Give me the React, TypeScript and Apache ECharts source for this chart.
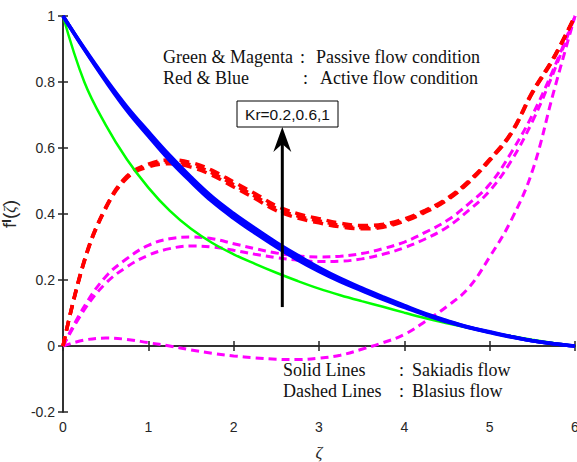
import React, { useEffect, useRef } from "react";
import * as echarts from "echarts";

const zeta = [0, 0.25, 0.5, 0.75, 1, 1.25, 1.5, 1.75, 2, 2.25, 2.5, 2.75, 3, 3.25, 3.5, 3.75, 4, 4.25, 4.5, 4.75, 5, 5.25, 5.5, 5.75, 6];

// Sakiadis (solid)
const greenPassive = [1, 0.8, 0.67, 0.565, 0.48, 0.41, 0.355, 0.312, 0.278, 0.249, 0.222, 0.197, 0.174, 0.154, 0.136, 0.119, 0.101, 0.084, 0.069, 0.055, 0.042, 0.03, 0.019, 0.009, 0];
const blueKr02 = [1, 0.902, 0.81, 0.725, 0.65, 0.578, 0.512, 0.452, 0.402, 0.357, 0.314, 0.275, 0.238, 0.205, 0.176, 0.149, 0.123, 0.098, 0.077, 0.058, 0.043, 0.029, 0.016, 0.007, 0];
const blueKr06 = [1, 0.9, 0.806, 0.719, 0.643, 0.57, 0.505, 0.445, 0.395, 0.35, 0.307, 0.268, 0.232, 0.2, 0.172, 0.145, 0.12, 0.096, 0.075, 0.057, 0.042, 0.028, 0.016, 0.007, 0];
const blueKr1 = [1, 0.898, 0.802, 0.713, 0.636, 0.562, 0.497, 0.437, 0.387, 0.342, 0.3, 0.261, 0.226, 0.195, 0.168, 0.141, 0.117, 0.094, 0.073, 0.056, 0.041, 0.027, 0.016, 0.007, 0];

// Blasius (dashed)
const redKr02 = [0, 0.26, 0.42, 0.515, 0.551, 0.564, 0.556, 0.532, 0.497, 0.462, 0.425, 0.401, 0.386, 0.372, 0.365, 0.369, 0.385, 0.412, 0.447, 0.499, 0.566, 0.646, 0.77, 0.875, 1];
const redKr06 = [0, 0.258, 0.418, 0.512, 0.547, 0.558, 0.549, 0.524, 0.489, 0.454, 0.417, 0.394, 0.379, 0.366, 0.359, 0.364, 0.381, 0.409, 0.444, 0.496, 0.564, 0.644, 0.768, 0.873, 1];
const redKr1 = [0, 0.256, 0.416, 0.509, 0.543, 0.552, 0.542, 0.517, 0.482, 0.447, 0.41, 0.388, 0.373, 0.361, 0.355, 0.36, 0.378, 0.406, 0.442, 0.494, 0.562, 0.642, 0.766, 0.871, 1];
const magentaUpper1 = [0, 0.12, 0.21, 0.265, 0.305, 0.325, 0.33, 0.325, 0.31, 0.295, 0.282, 0.273, 0.27, 0.272, 0.28, 0.295, 0.315, 0.345, 0.38, 0.43, 0.49, 0.585, 0.7, 0.84, 1];
const magentaUpper2 = [0, 0.11, 0.19, 0.24, 0.275, 0.295, 0.303, 0.3, 0.29, 0.278, 0.268, 0.26, 0.256, 0.257, 0.264, 0.278, 0.298, 0.325, 0.36, 0.41, 0.47, 0.56, 0.68, 0.83, 1];
const magentaLower = [0, 0.018, 0.024, 0.02, 0.01, 0, -0.012, -0.022, -0.03, -0.036, -0.04, -0.041, -0.037, -0.028, -0.01, 0.01, 0.035, 0.075, 0.12, 0.175, 0.27, 0.38, 0.53, 0.77, 1];

const xTicks = [0, 1, 2, 3, 4, 5, 6];
const yTicks = [-0.2, 0, 0.2, 0.4, 0.6, 0.8, 1];

const arrowFrom = [2.57, 0.118];
const arrowTo = [2.57, 0.664];

const pairs = (ys: number[]) => zeta.map((z, i) => [z, ys[i]]);

const SERIF = "'Liberation Serif', 'Times New Roman', serif";
const SANS = "'Liberation Sans', Arial, sans-serif";
const AX = "#262626";

export default function App() {
  const ref = useRef<HTMLDivElement>(null);
  useEffect(() => {
    if (!ref.current) return;
    const chart = echarts.init(ref.current, null, { renderer: "svg" });
    const dashed = (name: string, ys: number[], color: string, w: number, dash: number[]) => ({
      name, type: "line", data: pairs(ys), smooth: 0.4, symbol: "none",
      lineStyle: { color, width: w, type: dash }, z: 2,
    });
    const solid = (name: string, ys: number[], color: string, w: number) => ({
      name, type: "line", data: pairs(ys), smooth: 0.4, symbol: "none",
      lineStyle: { color, width: w, type: "solid" }, z: 3,
    });
    const axisCommon = {
      axisLine: { show: true, lineStyle: { color: AX, width: 1.5 } },
      axisTick: { show: true, inside: true, length: 5, lineStyle: { color: AX, width: 1.5 } },
      splitLine: { show: false },
    };
    chart.setOption({
      animation: false,
      grid: { left: 63, right: 2, top: 16, bottom: 50, containLabel: false, outerBoundsMode: "none" },
      xAxis: [
        {
          type: "value", min: xTicks[0], max: xTicks[xTicks.length - 1], interval: 1, position: "bottom",
          ...axisCommon,
          axisLabel: { color: AX, fontSize: 14, fontFamily: SANS, margin: 8 },
          name: "ζ", nameLocation: "middle", nameGap: 32,
          nameTextStyle: { color: AX, fontSize: 17, fontFamily: SERIF, fontStyle: "italic" },
        },
        {
          type: "value", min: xTicks[0], max: xTicks[xTicks.length - 1], interval: 1, position: "top",
          ...axisCommon, axisLabel: { show: false },
        },
      ],
      yAxis: [
        {
          type: "value", min: yTicks[0], max: yTicks[yTicks.length - 1], interval: 0.2, position: "left",
          ...axisCommon,
          axisLabel: { color: AX, fontSize: 14, fontFamily: SANS, margin: 8, formatter: (v: number) => String(Math.round(v * 10) / 10) },
          name: "{a|f}{b|I}{a|(}{c|ζ}{a|)}", nameLocation: "middle", nameGap: 34, nameRotate: 90,
          nameTextStyle: {
            lineHeight: 20,
            rich: {
              a: { color: AX, fontSize: 19, fontFamily: SANS, lineHeight: 20 },
              b: { color: AX, fontSize: 13, fontFamily: SANS, fontWeight: "bold", verticalAlign: "top", lineHeight: 14 },
              c: { color: AX, fontSize: 16, fontFamily: SERIF, fontStyle: "italic", lineHeight: 20 },
            },
          },
        },
        {
          type: "value", min: yTicks[0], max: yTicks[yTicks.length - 1], interval: 0.2, position: "right",
          ...axisCommon, axisLabel: { show: false },
        },
      ],
      series: [
        dashed("Magenta Kr=0.2", magentaUpper1, "#ff00ff", 3, [8, 5]),
        dashed("Magenta Kr=0.6", magentaUpper2, "#ff00ff", 3, [8, 5]),
        dashed("Magenta Kr=1", magentaLower, "#ff00ff", 3, [8, 5]),
        dashed("Red Kr=0.2", redKr02, "#ff0000", 3.5, [10, 6]),
        dashed("Red Kr=0.6", redKr06, "#ff0000", 3.5, [10, 6]),
        dashed("Red Kr=1", redKr1, "#ff0000", 3.5, [10, 6]),
        solid("Green", greenPassive, "#00ff00", 2.5),
        solid("Blue Kr=0.2", blueKr02, "#0000ff", 3.5),
        solid("Blue Kr=0.6", blueKr06, "#0000ff", 3.5),
        solid("Blue Kr=1", blueKr1, "#0000ff", 3.5),
      ],
    });
    const p0 = chart.convertToPixel({ gridIndex: 0 }, arrowFrom) as number[];
    const p1 = chart.convertToPixel({ gridIndex: 0 }, arrowTo) as number[];
    const tx = { fill: "#111", fontSize: 18, fontFamily: SERIF };
    const t = (text: string, x: number, y: number) => ({
      type: "text", x, y, style: { ...tx, text, textVerticalAlign: "middle" }, z: 10,
    });
    chart.setOption({
      graphic: [
        t("Green & Magenta", 163, 57),
        t(":", 300, 57),
        t("Passive flow condition", 316, 57),
        t("Red & Blue", 163, 78),
        t(":", 303, 78),
        t("Active flow condition", 320, 78),
        t("Solid Lines", 283, 370),
        t(":", 399, 370),
        t("Sakiadis flow", 412, 370),
        t("Dashed Lines", 283, 391),
        t(":", 399, 391),
        t("Blasius flow", 412, 391),
        {
          type: "line", z: 10,
          shape: { x1: p0[0], y1: p0[1], x2: p1[0], y2: p1[1] + 14 },
          style: { stroke: "#000", lineWidth: 3 },
        },
        {
          type: "polygon", z: 10,
          shape: { points: [[p1[0], p1[1]], [p1[0] + 9, p1[1] + 25], [p1[0], p1[1] + 17], [p1[0] - 9, p1[1] + 25]] },
          style: { fill: "#000" },
        },
        {
          type: "rect", z: 11,
          shape: { x: 237, y: 101, width: 101, height: 26 },
          style: { fill: "#fff", stroke: "#000", lineWidth: 1 },
        },
        {
          type: "text", z: 12, x: 287.5, y: 114,
          style: { text: "Kr=0.2,0.6,1", fill: "#111", fontSize: 15.5, fontFamily: SANS, textAlign: "center", textVerticalAlign: "middle" },
        },
      ],
    });
    return () => chart.dispose();
  }, []);
  return <div ref={ref} style={{ position: "absolute", left: 0, top: 0, width: 577, height: 462 }} />;
}
